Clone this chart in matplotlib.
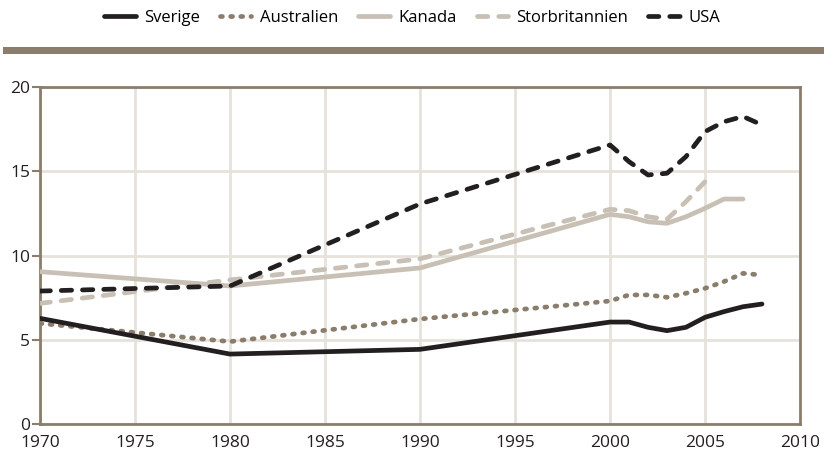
import matplotlib
matplotlib.use("Agg")
import matplotlib.pyplot as plt
from matplotlib.patches import Rectangle

plt.rcParams['font.family'] = ['Open Sans', 'DejaVu Sans']

years_long = [1970, 1980, 1990, 2000, 2001, 2002, 2003, 2004, 2005, 2006, 2007, 2008]
sverige = [6.27, 4.15, 4.43, 6.05, 6.05, 5.74, 5.54, 5.74, 6.33, 6.67, 6.96, 7.12]
australien = [5.97, 4.89, 6.23, 7.3, 7.66, 7.66, 7.52, 7.76, 8.05, 8.45, 8.94, 8.84]
usa = [7.89, 8.19, 13.06, 16.56, 15.57, 14.78, 14.88, 15.87, 17.35, 17.94, 18.25, 17.75]

years_kanada = [1970, 1980, 1990, 2000, 2001, 2002, 2003, 2004, 2005, 2006, 2007]
kanada = [9.04, 8.19, 9.26, 12.44, 12.3, 12.0, 11.91, 12.3, 12.8, 13.35, 13.35]

years_uk = [1970, 1980, 1990, 2000, 2001, 2002, 2003, 2004, 2005]
storbritannien = [7.16, 8.55, 9.8, 12.74, 12.66, 12.3, 12.15, 13.2, 14.38]

labels = ['Sverige', 'Australien', 'Kanada', 'Storbritannien', 'USA']
x_ticks = [1970, 1975, 1980, 1985, 1990, 1995, 2000, 2005, 2010]
y_ticks = [0, 5, 10, 15, 20]

DARK = '#231f20'
BROWN = '#8b7d6b'
LIGHT = '#c8c0b4'
GRID = '#e6e1da'

fig = plt.figure(figsize=(8.24, 4.58), dpi=100)
ax = fig.add_axes([40/824, 34/458, 760/824, 337/458])

lw = 3.4
dash = (0, (2.2, 2.3))
lines = []
l, = ax.plot(years_long, sverige, color=DARK, lw=lw, solid_capstyle='round', solid_joinstyle='round', zorder=5)
lines.append(l)
l, = ax.plot(years_long, australien, color=BROWN, lw=lw, linestyle=(0, (0.4, 1.75)), dash_capstyle='round', zorder=4)
lines.append(l)
l, = ax.plot(years_kanada, kanada, color=LIGHT, lw=lw, solid_capstyle='round', solid_joinstyle='round', zorder=3)
lines.append(l)
l, = ax.plot(years_uk, storbritannien, color=LIGHT, lw=lw, linestyle=dash, dash_capstyle='round', zorder=3)
lines.append(l)
l, = ax.plot(years_long, usa, color=DARK, lw=lw, linestyle=dash, dash_capstyle='round', zorder=5)
lines.append(l)

ax.set_xlim(1970, 2010)
ax.set_ylim(0, 20)
ax.set_xticks(x_ticks)
ax.set_yticks(y_ticks)
ax.grid(True, color=GRID, lw=2)
ax.set_axisbelow(True)
for s in ax.spines.values():
    s.set_color(BROWN)
    s.set_linewidth(2)
ax.tick_params(axis='y', length=6, width=1.5, color=BROWN, labelsize=12.5, labelcolor='#231f20', pad=1)
ax.tick_params(axis='x', length=0, labelsize=12.5, labelcolor='#231f20', pad=8)

fig.legend(lines, labels, loc='center', bbox_to_anchor=(0.5, 1 - 18/458), ncol=5,
           frameon=False, fontsize=12, handlelength=1.9, handletextpad=0.5, columnspacing=1.2)

fig.patches.append(Rectangle((3/824, 1 - 54/458), 821/824, 7/458, transform=fig.transFigure,
                             facecolor=BROWN, edgecolor='none'))

fig.savefig('out.png', dpi=100)
